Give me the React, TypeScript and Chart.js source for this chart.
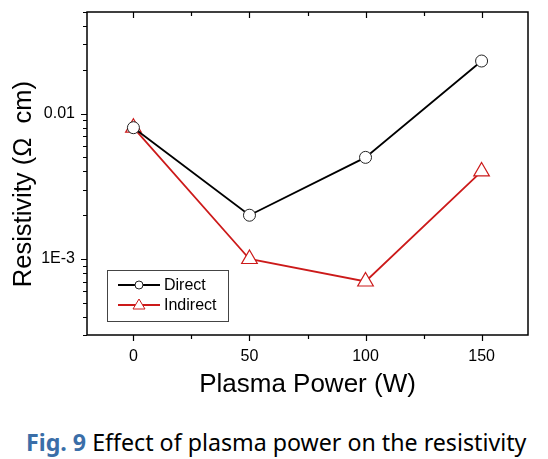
import React, { useEffect, useRef } from "react";
import { Chart, registerables } from "chart.js";

Chart.register(...registerables);

const powers = [0, 50, 100, 150];
const directValues = [0.008, 0.002, 0.005, 0.023];
const indirectValues = [0.008, 0.001, 0.0007, 0.004];
const xTickValues = [0, 25, 50, 75, 100, 125, 150];
const xLabeled = [0, 50, 100, 150];
const yTickValues = [
  0.0003, 0.0004, 0.0005, 0.0006, 0.0007, 0.0008, 0.0009,
  0.001, 0.002, 0.003, 0.004, 0.005, 0.006, 0.007, 0.008, 0.009,
  0.01, 0.02, 0.03, 0.04, 0.05,
];
const yLabels: Record<string, string> = { "0.01": "0.01", "0.001": "1E-3" };

const RED = "#cc1a1a";
const FONT = "'Liberation Sans', Arial, sans-serif";

const frameTicksPlugin = {
  id: "frameTicks",
  afterDraw(chart: any) {
    const { ctx, chartArea } = chart;
    const { left, right, top, bottom } = chartArea;
    const xs = chart.scales.x;
    const ys = chart.scales.y;
    ctx.save();
    ctx.strokeStyle = "#000";
    ctx.lineWidth = 1.5;
    ctx.strokeRect(left, top, right - left, bottom - top);
    ctx.lineWidth = 1.2;
    ctx.beginPath();
    xs.ticks.forEach((t: any) => {
      const px = Math.round(xs.getPixelForValue(t.value)) + 0.5;
      const major = xLabeled.includes(t.value);
      const len = major ? 6 : 4;
      ctx.moveTo(px, bottom);
      ctx.lineTo(px, bottom + len);
      ctx.moveTo(px, top);
      ctx.lineTo(px, top + len);
    });
    ys.ticks.forEach((t: any) => {
      const py = Math.round(ys.getPixelForValue(t.value)) + 0.5;
      const major = yLabels[String(t.value)] !== undefined;
      const len = major ? 6 : 4;
      ctx.moveTo(left, py);
      ctx.lineTo(left - len, py);
    });
    ctx.stroke();
    ctx.restore();
  },
};

const legendPlugin = {
  id: "boxLegend",
  afterDraw(chart: any) {
    const { ctx, chartArea } = chart;
    const x0 = chartArea.left + 20;
    const y0 = chartArea.bottom - 65;
    const w = 121;
    const h = 51;
    ctx.save();
    ctx.fillStyle = "#fff";
    ctx.fillRect(x0, y0, w, h);
    ctx.strokeStyle = "#444";
    ctx.lineWidth = 1;
    ctx.strokeRect(x0 + 0.5, y0 + 0.5, w, h);
    chart.data.datasets.forEach((ds: any, i: number) => {
      const cy = y0 + 15 + i * 20;
      ctx.strokeStyle = ds.borderColor;
      ctx.lineWidth = 2;
      ctx.beginPath();
      ctx.moveTo(x0 + 11, cy);
      ctx.lineTo(x0 + 53, cy);
      ctx.stroke();
      const mx = x0 + 32;
      ctx.lineWidth = 1;
      ctx.fillStyle = "#fff";
      ctx.strokeStyle = ds.pointBorderColor;
      ctx.beginPath();
      if (ds.pointStyle === "triangle") {
        ctx.moveTo(mx, cy - 6);
        ctx.lineTo(mx + 6, cy + 4);
        ctx.lineTo(mx - 6, cy + 4);
        ctx.closePath();
      } else {
        ctx.arc(mx, cy, 4, 0, Math.PI * 2);
      }
      ctx.fill();
      ctx.stroke();
      ctx.fillStyle = "#000";
      ctx.font = "16px " + FONT;
      ctx.textBaseline = "middle";
      ctx.textAlign = "left";
      ctx.fillText(ds.label, x0 + 57, cy + 1);
    });
    ctx.restore();
  },
};

export default function App() {
  const ref = useRef<HTMLCanvasElement>(null);
  useEffect(() => {
    document.body.style.margin = "0";
    const chart = new Chart(ref.current!, {
      type: "line",
      data: {
        datasets: [
          {
            label: "Direct",
            data: powers.map((p, i) => ({ x: p, y: directValues[i] })),
            borderColor: "#000",
            borderWidth: 1.8,
            pointStyle: "circle",
            pointRadius: 6,
            pointBorderWidth: 1,
            pointBorderColor: "#222",
            pointBackgroundColor: "#fff",
          },
          {
            label: "Indirect",
            data: powers.map((p, i) => ({ x: p, y: indirectValues[i] })),
            borderColor: RED,
            borderWidth: 1.8,
            pointStyle: "triangle",
            pointRadius: 9,
            pointBorderWidth: 1.2,
            pointBorderColor: RED,
            pointBackgroundColor: "#fff",
          },
        ],
      },
      options: {
        animation: false,
        responsive: false,
        layout: { padding: { top: 12, right: 20, left: 0, bottom: 0 } },
        plugins: { legend: { display: false }, tooltip: { enabled: false } },
        scales: {
          x: {
            type: "linear",
            min: -20,
            max: 170,
            afterBuildTicks: (s: any) => {
              s.ticks = xTickValues.map((v) => ({ value: v }));
            },
            afterFit: (s: any) => {
              s.height = 65;
              s.paddingLeft = 0;
              s.paddingRight = 0;
            },
            grid: { display: false, drawTicks: false },
            border: { display: false },
            ticks: {
              padding: 12,
              color: "#000",
              font: { family: FONT, size: 16 },
              maxRotation: 0,
              autoSkip: false,
              callback: (v: any) => (xLabeled.includes(v) ? String(v) : ""),
            },
            title: {
              display: true,
              text: "Plasma Power (W)",
              color: "#000",
              font: { family: FONT, size: 26 },
              padding: { top: 9, bottom: 0 },
            },
          },
          y: {
            type: "logarithmic",
            min: 0.0003,
            max: 0.05,
            afterBuildTicks: (s: any) => {
              s.ticks = yTickValues.map((v) => ({ value: v }));
            },
            afterFit: (s: any) => {
              s.width = 87;
              s.paddingTop = 0;
              s.paddingBottom = 0;
            },
            grid: { display: false, drawTicks: false },
            border: { display: false },
            ticks: {
              padding: 12,
              color: "#000",
              font: { family: FONT, size: 16 },
              autoSkip: false,
              callback: (v: any) => yLabels[String(v)] ?? "",
            },
            title: {
              display: true,
              text: "Resistivity (Ω  cm)   ",
              color: "#000",
              font: { family: FONT, size: 25.5 },
              padding: { top: 9, bottom: 0 },
            },
          },
        },
      },
      plugins: [frameTicksPlugin, legendPlugin],
    } as any);
    return () => chart.destroy();
  }, []);
  return (
    <div style={{ position: "absolute", left: 0, top: 0, width: 548, height: 459, background: "#fff" }}>
      <canvas ref={ref} width={548} height={400} style={{ display: "block" }} />
      <div
        style={{
          position: "absolute",
          left: 26,
          top: 427,
          fontFamily: "'Noto Sans', sans-serif",
          fontSize: 23.2,
          whiteSpace: "nowrap",
          color: "#000",
          lineHeight: "30px",
        }}
      >
        <span style={{ color: "#3a6ea8", fontWeight: "bold" }}>Fig. 9</span> Effect of plasma power on the resistivity
      </div>
    </div>
  );
}
